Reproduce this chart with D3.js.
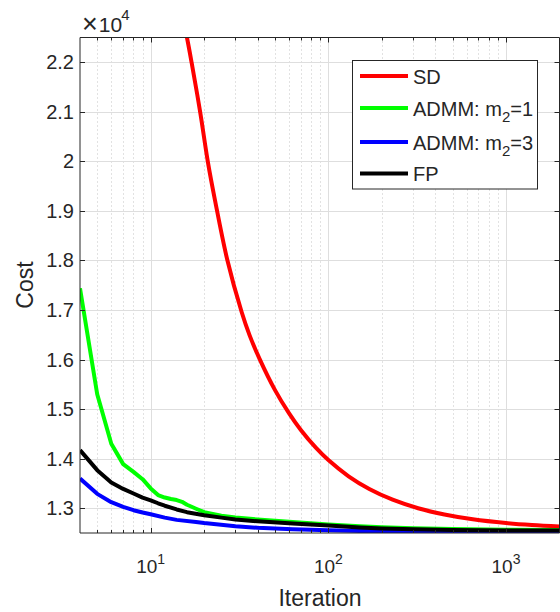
<!DOCTYPE html>
<html><head><meta charset="utf-8">
<script src="https://cdn.jsdelivr.net/npm/d3@7"></script>
<style>body{margin:0;background:#fff} text{font-family:"Liberation Sans",Arial,sans-serif;fill:#262626}</style>
</head><body><svg id="c" width="560" height="612"></svg>
<script>
// ---- data ----
const iterSD = [14,16,17,19,21,23,27,32.5,36,41,50,60,70,85,100,130,170,230,320,450,650,1000,1400,2000];
const costSD = [23500,22500,21991,20990,19981,19220,18009,16960,16494,16013,15388,14918,14578,14221,13971,13644,13388,13172,13000,12873,12776,12700,12660,12631];
const iterA1 = [4,5,6,7,8,9,10,11,12,13,14,15,16,17,18,20,25,30,40,63,100,150,200,300,500,1000,2000];
const costA1 = [17440,15300,14300,13890,13734,13586,13400,13265,13216,13185,13165,13130,13070,13030,12990,12920,12850,12812,12772,12723,12670,12636,12615,12595,12580,12565,12560];
const iterA3 = [4,5,6,7,8,9,10,12,14,18,20,30,40,63,100,150,300,1000,2000];
const costA3 = [13600,13290,13121,13027,12960,12913,12879,12810,12765,12723,12700,12636,12605,12575,12555,12541,12533,12530,12530];
const iterFP = [4,5,6,7,8,9,10,11,12,14,16,20,25,30,40,63,100,150,200,300,500,1000,2000];
const costFP = [14172,13768,13520,13390,13297,13215,13160,13100,13050,12975,12920,12860,12810,12772,12735,12690,12650,12610,12590,12575,12560,12552,12550];
const seriesNames = ["SD","ADMM: m|2|=1","ADMM: m|2|=3","FP"];
const seriesColors = ["#ff0000","#00ff00","#0000ff","#000000"];
const yTicks = [13000,14000,15000,16000,17000,18000,19000,20000,21000,22000];
const yTickLabels = ["1.3","1.4","1.5","1.6","1.7","1.8","1.9","2","2.1","2.2"];
const xTicks = [10,100,1000];
const xTickExp = ["1","2","3"];

// ---- layout ----
const L = 80, R = 559.5, T = 37.5, B = 533;
const svg = d3.select("#c");
const x = d3.scaleLog().domain([4,2000]).range([L,R]);
const y = d3.scaleLinear().domain([12500,22500]).range([B,T]);
const axisCol = "#262626";

const minor = [];
for (let d = 1; d <= 1000; d *= 10) for (let m = 2; m <= 9; m++) {
  const v = m*d; if (v > 4 && v < 2000) minor.push(v);
}
const g = svg.append("g");
g.selectAll(".mg").data(minor).enter().append("line")
  .attr("x1", d=>Math.round(x(d))+0.5).attr("x2", d=>Math.round(x(d))+0.5).attr("y1",T).attr("y2",B)
  .attr("stroke","#c4c4c4").attr("stroke-width",1).attr("stroke-dasharray","1,3");
g.selectAll(".xg").data(xTicks).enter().append("line")
  .attr("x1", d=>Math.round(x(d))+0.5).attr("x2", d=>Math.round(x(d))+0.5).attr("y1",T).attr("y2",B)
  .attr("stroke","#dedede").attr("stroke-width",1);
g.selectAll(".yg").data(yTicks).enter().append("line")
  .attr("y1", d=>Math.round(y(d))+0.5).attr("y2", d=>Math.round(y(d))+0.5).attr("x1",L).attr("x2",R)
  .attr("stroke","#dedede").attr("stroke-width",1);

svg.append("clipPath").attr("id","clip").append("rect").attr("x",L).attr("y",T).attr("width",R-L).attr("height",B-T);

const all = [[iterSD,costSD],[iterA1,costA1],[iterA3,costA3],[iterFP,costFP]];
const lines = svg.append("g").attr("clip-path","url(#clip)");
all.forEach(([it,c],i) => {
  const pts = it.map((v,k)=>[v,c[k]]);
  const gen = d3.line().x(d=>x(d[0])).y(d=>y(d[1]))
    .curve(i===0 ? d3.curveCatmullRom.alpha(0.5) : d3.curveLinear);
  lines.append("path").attr("d", gen(pts)).attr("fill","none")
    .attr("stroke", seriesColors[i]).attr("stroke-width",4).attr("stroke-linejoin","round");
});

const ax = svg.append("g").attr("stroke",axisCol).attr("stroke-width",1).attr("fill","none");
ax.append("line").attr("x1",L).attr("x2",L).attr("y1",T).attr("y2",B);
ax.append("line").attr("x1",L).attr("x2",R).attr("y1",B).attr("y2",B);
ax.append("line").attr("x1",L).attr("x2",R).attr("y1",T).attr("y2",T);
ax.append("line").attr("x1",R).attr("x2",R).attr("y1",T).attr("y2",B);
yTicks.forEach(v=>{
  const yy = Math.round(y(v))+0.5;
  ax.append("line").attr("x1",L).attr("x2",L+5).attr("y1",yy).attr("y2",yy);
  ax.append("line").attr("x1",R-5).attr("x2",R).attr("y1",yy).attr("y2",yy);
});
xTicks.forEach(v=>{
  const xx = Math.round(x(v))+0.5;
  ax.append("line").attr("x1",xx).attr("x2",xx).attr("y1",B).attr("y2",B-5);
  ax.append("line").attr("x1",xx).attr("x2",xx).attr("y1",T).attr("y2",T+5);
});
minor.forEach(v=>{
  const xx = Math.round(x(v))+0.5;
  ax.append("line").attr("x1",xx).attr("x2",xx).attr("y1",B).attr("y2",B-3);
  ax.append("line").attr("x1",xx).attr("x2",xx).attr("y1",T).attr("y2",T+3);
});

svg.selectAll(".yl").data(yTicks).enter().append("text")
  .attr("x", L-6).attr("y", d=>y(d)+7).attr("text-anchor","end").attr("font-size","20px")
  .text((d,i)=>yTickLabels[i]);
xTicks.forEach((v,i)=>{
  const t = svg.append("text").attr("x", x(v)).attr("y", 573).attr("text-anchor","middle").attr("font-size","19px");
  t.append("tspan").text("10");
  t.append("tspan").attr("font-size","14px").attr("dy",-9).text(xTickExp[i]);
});
const ex = svg.append("text").attr("x",82).attr("y",32).attr("font-size","21px");
ex.append("tspan").attr("font-size","27px").attr("dy",1).text("\u00d7");
ex.append("tspan").attr("dy",-1).attr("dx",1).text("10");
ex.append("tspan").attr("font-size","15px").attr("dy",-12).attr("dx",-1).text("4");

svg.append("text").attr("x",320).attr("y",606).attr("text-anchor","middle").attr("font-size","23px").text("Iteration");
svg.append("text").attr("transform","translate(33,285) rotate(-90)").attr("text-anchor","middle").attr("font-size","23px").text("Cost");

const lg = svg.append("g");
lg.append("rect").attr("x",352.5).attr("y",60.5).attr("width",185).attr("height",128.5)
  .attr("fill","#fff").attr("stroke",axisCol).attr("stroke-width",1);
const legY = [76, 108, 142, 173.5];
seriesNames.forEach((nm,i)=>{
  lg.append("line").attr("x1",360).attr("x2",408).attr("y1",legY[i]).attr("y2",legY[i])
    .attr("stroke",seriesColors[i]).attr("stroke-width",4);
  const t = lg.append("text").attr("x",413).attr("y",legY[i]+7.5).attr("font-size","20px");
  const parts = nm.split("|");
  if (parts.length===1) t.text(nm);
  else {
    t.append("tspan").text(parts[0]);
    t.append("tspan").attr("font-size","15px").attr("dy",6).text(parts[1]);
    t.append("tspan").attr("dy",-6).text(parts[2]);
  }
});
</script></body></html>
